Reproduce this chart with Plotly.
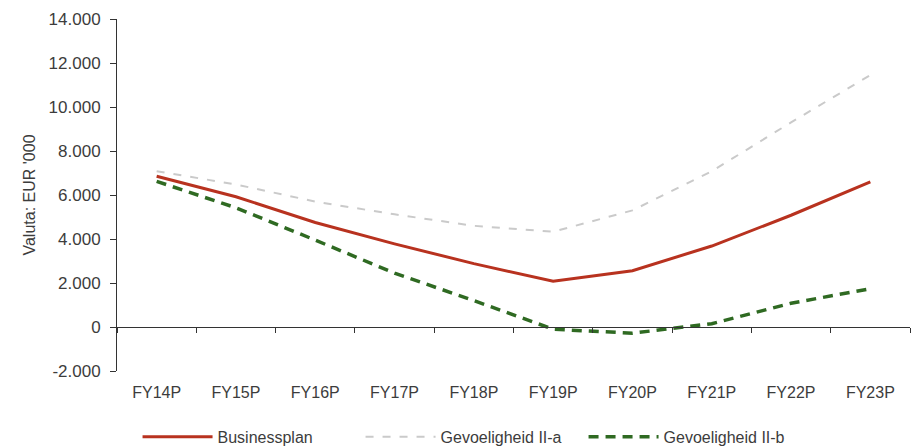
import plotly.graph_objects as go

# Forecast years
categories = ["FY14P", "FY15P", "FY16P", "FY17P", "FY18P",
              "FY19P", "FY20P", "FY21P", "FY22P", "FY23P"]

# Scenario values (EUR '000)
businessplan = [6850, 5920, 4750, 3780, 2880, 2080, 2560, 3680, 5080, 6600]
gevoeligheid_a = [7080, 6480, 5700, 5120, 4600, 4330, 5300, 7080, 9300, 11450]
gevoeligheid_b = [6620, 5420, 3950, 2450, 1200, -100, -280, 150, 1080, 1740]

# Value axis ticks
y_ticks = [-2000, 0, 2000, 4000, 6000, 8000, 10000, 12000, 14000]
y_tick_labels = ["-2.000", "0", "2.000", "4.000", "6.000", "8.000",
                 "10.000", "12.000", "14.000"]

Y_MIN, Y_MAX = -2000, 14000
BASE_FONT = "Liberation Sans, Arial, sans-serif"
TEXT_COLOR = "#3c3c3c"
AXIS_COLOR = "#333333"

fig = go.Figure()

fig.add_trace(go.Scatter(
    x=categories, y=businessplan, name="Businessplan", mode="lines",
    line=dict(color="#b8321f", width=3),
))
fig.add_trace(go.Scatter(
    x=categories, y=gevoeligheid_a, name="Gevoeligheid II-a", mode="lines",
    line=dict(color="#cacaca", width=2, dash="8px,9px"),
))
fig.add_trace(go.Scatter(
    x=categories, y=gevoeligheid_b, name="Gevoeligheid II-b", mode="lines",
    line=dict(color="#2f6a22", width=3.5, dash="10px,7px"),
))
# invisible carrier so the category axis on the zero line gets drawn
fig.add_trace(go.Scatter(
    x=categories, y=businessplan, xaxis="x2", mode="lines",
    line=dict(width=0), opacity=0, showlegend=False, hoverinfo="skip",
))

fig.update_layout(
    width=917, height=448,
    margin=dict(l=117, r=7, t=19, b=77, autoexpand=False),
    paper_bgcolor="white", plot_bgcolor="white",
    showlegend=True,
    legend=dict(orientation="h", xref="container", x=0.150, xanchor="left",
                yref="container", y=0.025, yanchor="middle",
                font=dict(family=BASE_FONT, size=16, color=TEXT_COLOR),
                itemwidth=70, entrywidth=138, tracegroupgap=0),
    xaxis=dict(
        type="category", range=[-0.5, len(categories) - 0.5],
        showline=False, ticks="", showgrid=False, zeroline=False,
        tickfont=dict(family=BASE_FONT, size=16, color=TEXT_COLOR),
        ticklabelstandoff=10,
    ),
    xaxis2=dict(
        type="category", overlaying="x", anchor="free",
        position=(0 - Y_MIN) / (Y_MAX - Y_MIN),
        range=[-0.5, len(categories) - 0.5],
        tickson="boundaries", showticklabels=False,
        ticks="outside", ticklen=5, tickcolor=AXIS_COLOR, tickwidth=1,
        showline=True, linecolor=AXIS_COLOR, linewidth=1,
        showgrid=False, zeroline=False,
    ),
    yaxis=dict(
        range=[Y_MIN, Y_MAX], tickmode="array", tickvals=y_ticks, ticktext=y_tick_labels,
        ticks="outside", ticklen=6, tickcolor=AXIS_COLOR,
        showline=True, linecolor=AXIS_COLOR, linewidth=1,
        showgrid=False, zeroline=False,
        tickfont=dict(family=BASE_FONT, size=17, color=TEXT_COLOR),
        ticklabelstandoff=6,
        title=dict(text="Valuta: EUR '000",
                   font=dict(family=BASE_FONT, size=16, color=TEXT_COLOR), standoff=8),
    ),
)

fig.write_html("out.html")
